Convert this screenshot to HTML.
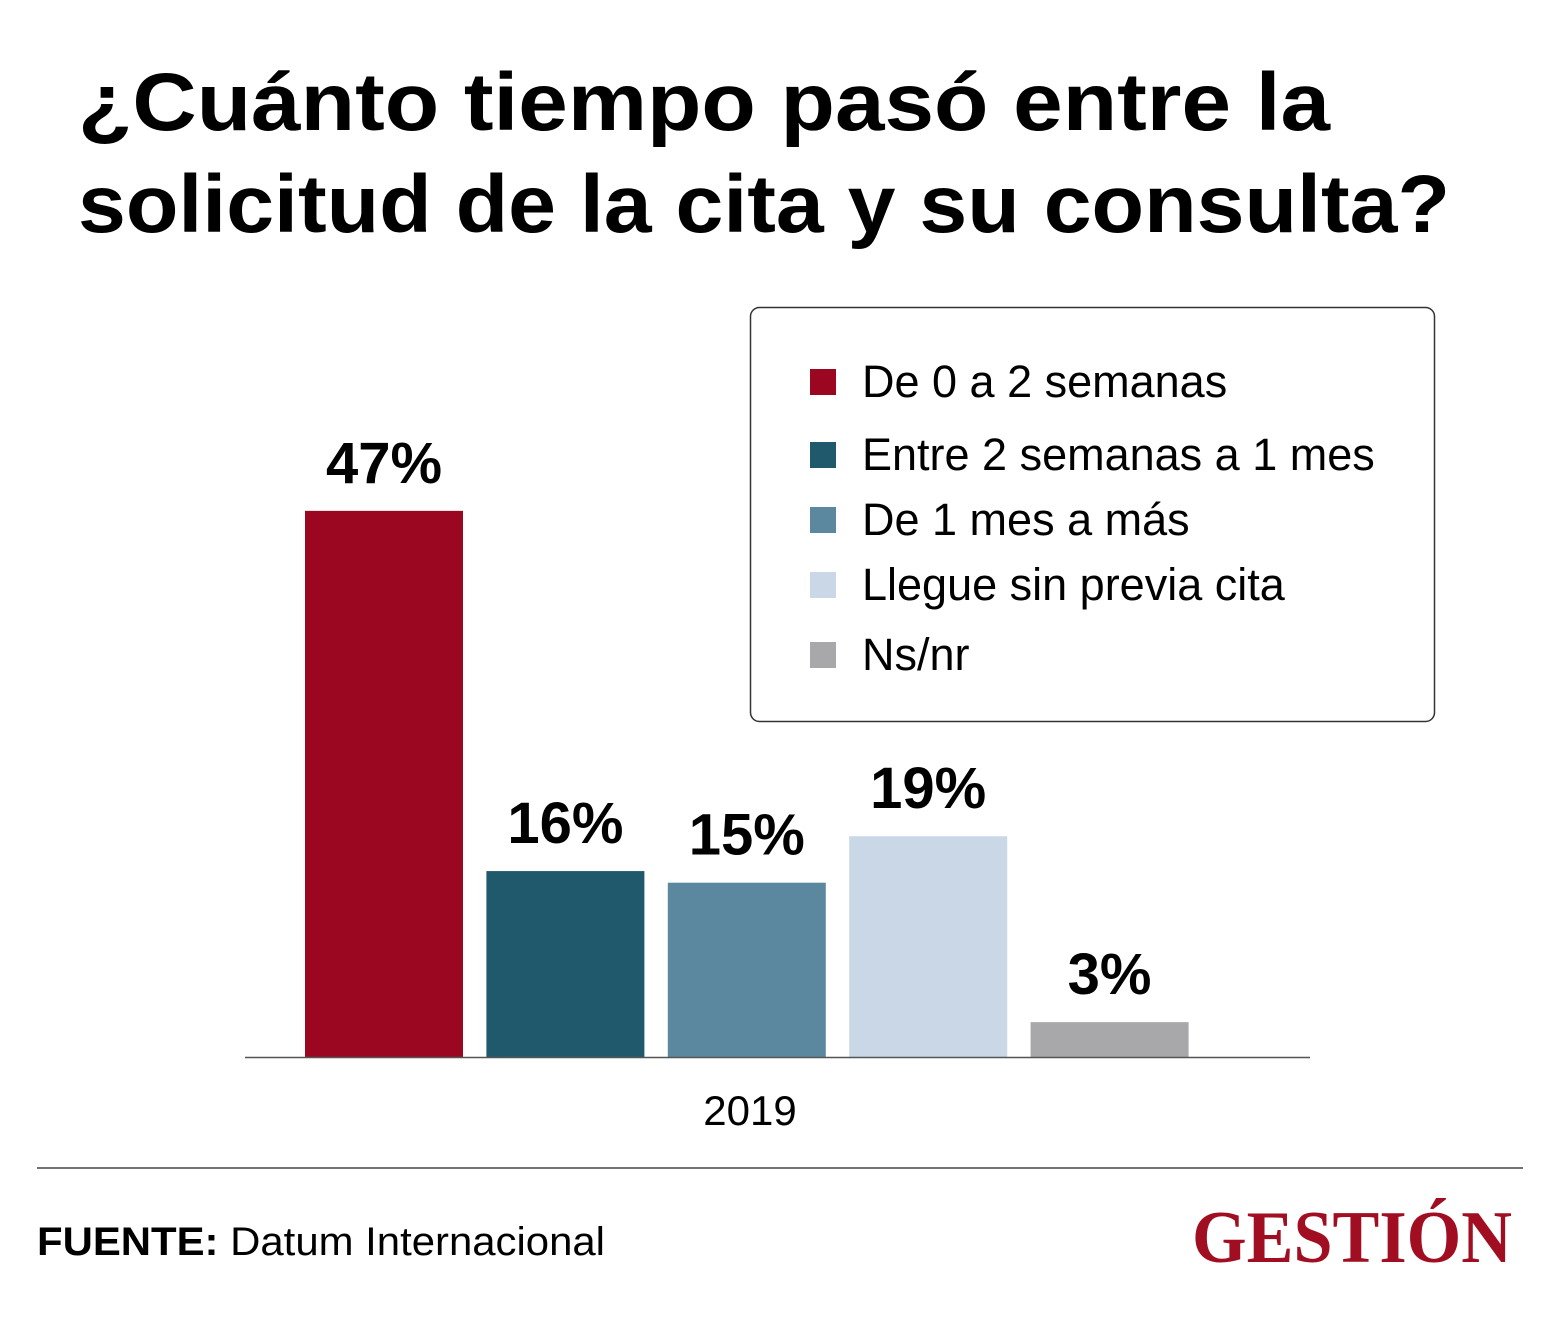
<!DOCTYPE html>
<html><head><meta charset="utf-8"><style>
html,body{margin:0;padding:0;background:#fff}
svg{display:block}
</style></head><body>
<svg width="1564" height="1322" viewBox="0 0 1564 1322" xmlns="http://www.w3.org/2000/svg" font-family="Liberation Sans, sans-serif">
<text x="78" y="130" font-size="82" font-weight="bold" textLength="1252" lengthAdjust="spacingAndGlyphs">¿Cuánto tiempo pasó entre la</text>
<text x="78" y="232" font-size="82" font-weight="bold" textLength="1372" lengthAdjust="spacingAndGlyphs">solicitud de la cita y su consulta?</text>
<g id="bars"></g>
<line x1="245" y1="1057.5" x2="1310" y2="1057.5" stroke="#555" stroke-width="1.5"/>
<text x="750" y="1125" font-size="42" text-anchor="middle">2019</text>
<rect x="750.5" y="307.5" width="684" height="414" rx="9" fill="#fff" stroke="#333" stroke-width="1.5"/>
<g id="legend"></g>
<line x1="37" y1="1168" x2="1523" y2="1168" stroke="#444" stroke-width="1.5"/>
<text x="37" y="1255" font-size="40" textLength="568" lengthAdjust="spacingAndGlyphs"><tspan font-weight="bold">FUENTE:</tspan> Datum Internacional</text>
<text x="1512" y="1262" font-size="74" font-weight="bold" fill="#a10e22" text-anchor="end" font-family="Liberation Serif, serif" textLength="320" lengthAdjust="spacingAndGlyphs">GESTIÓN</text>
</svg>
<script>
const categories=["De 0 a 2 semanas","Entre 2 semanas a 1 mes","De 1 mes a más","Llegue sin previa cita","Ns/nr"];
const values=[47,16,15,19,3];
const valueLabels=["47%","16%","15%","19%","3%"];
const colors=["#9b0720","#20596b","#5c889f","#c9d7e6","#a8a8ab"];
const NS="http://www.w3.org/2000/svg";
const baseY=1057, pxPer=11.62, x0=305, step=181.4, bw=158;
const yScale=v=>baseY-v*pxPer;
const xScale=i=>x0+i*step;
const gb=document.getElementById('bars');
values.forEach((v,i)=>{
  const r=document.createElementNS(NS,'rect');
  r.setAttribute('x',xScale(i));r.setAttribute('y',yScale(v));
  r.setAttribute('width',bw);r.setAttribute('height',baseY-yScale(v));
  r.setAttribute('fill',colors[i]);
  
  
  gb.appendChild(r);
  const t=document.createElementNS(NS,'text');
  t.setAttribute('x',xScale(i)+bw/2);t.setAttribute('y',yScale(v)-28);
  t.setAttribute('font-size','58');t.setAttribute('font-weight','bold');
  t.setAttribute('text-anchor','middle');t.textContent=valueLabels[i];
  
  
  gb.appendChild(t);
});
const gl=document.getElementById('legend');
const ly=[382,455,520,585,655];
categories.forEach((c,i)=>{
  const r=document.createElementNS(NS,'rect');
  r.setAttribute('x',810);r.setAttribute('y',ly[i]-13);r.setAttribute('width',26);r.setAttribute('height',26);
  r.setAttribute('fill',colors[i]);
  
  
  gl.appendChild(r);
  const t=document.createElementNS(NS,'text');
  t.setAttribute('x',862);t.setAttribute('y',ly[i]+15);t.setAttribute('font-size','45');
  t.textContent=c;
  
  
  gl.appendChild(t);
});
</script>
</body></html>
